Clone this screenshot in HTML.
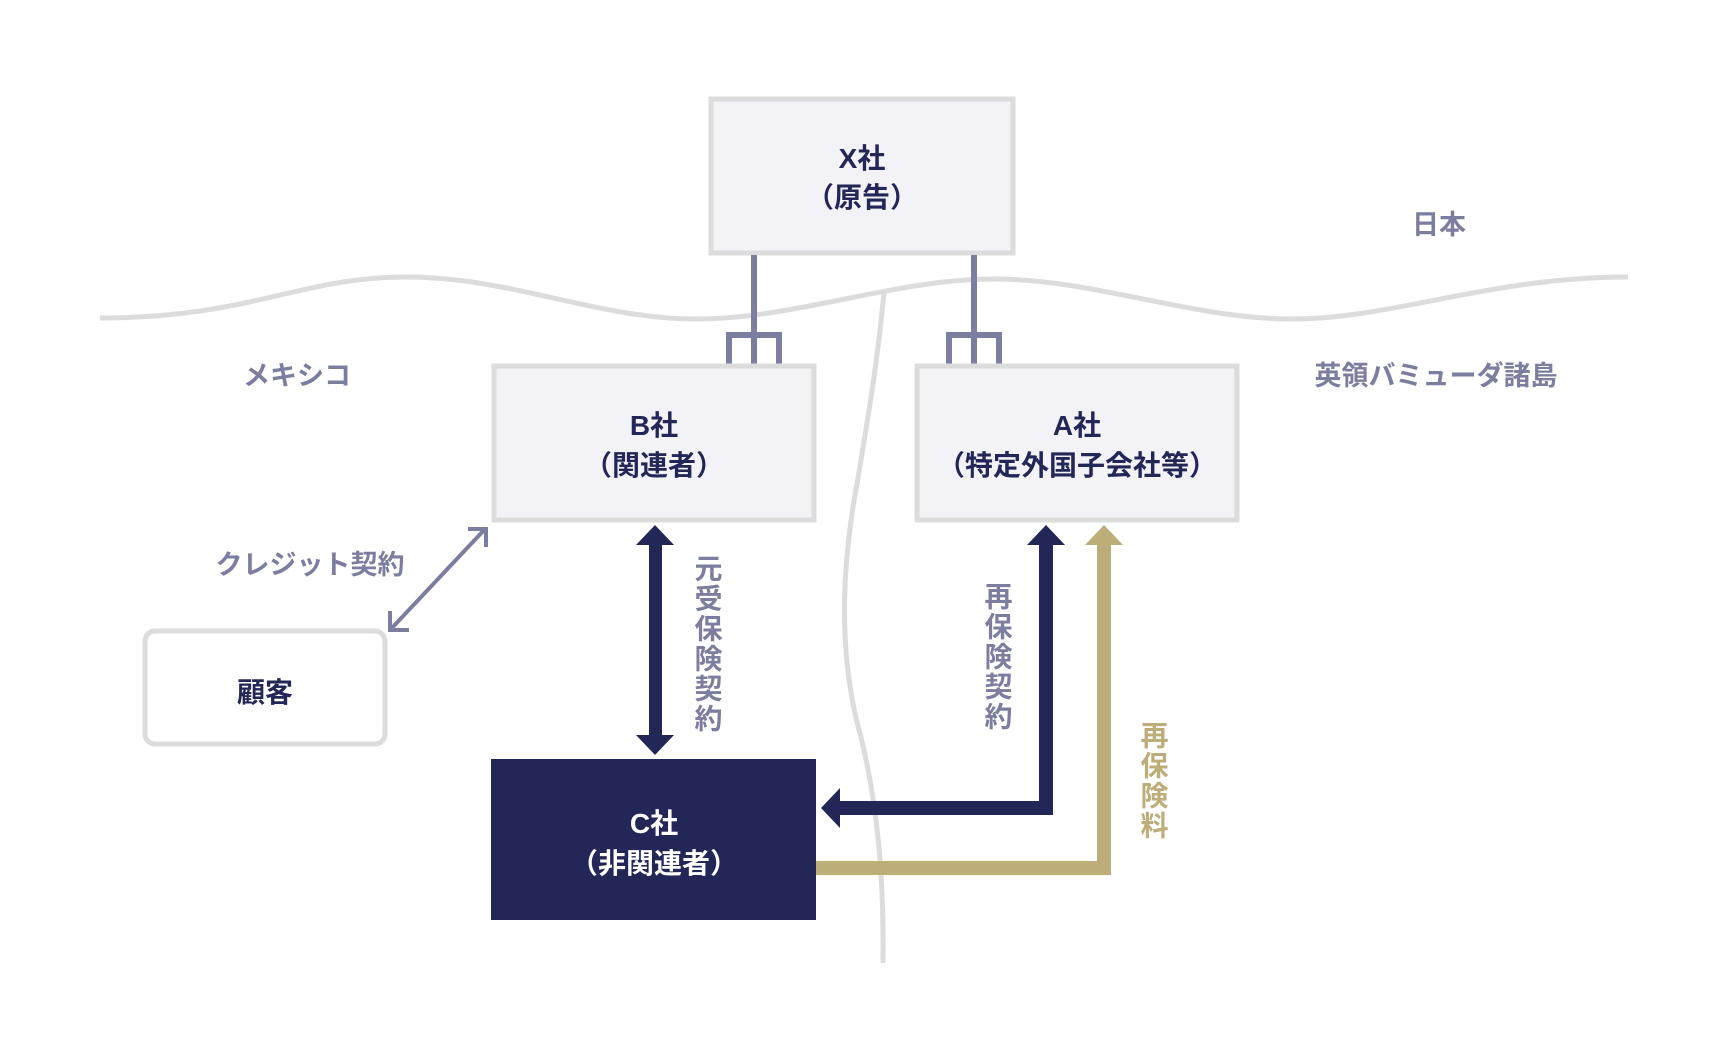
<!DOCTYPE html>
<html><head><meta charset="utf-8"><style>
html,body{margin:0;padding:0;background:#fff;}
svg{display:block;}
text{font-family:"Liberation Sans","Noto Sans CJK JP",sans-serif;}
</style></head><body>
<svg width="1720" height="1060" viewBox="0 0 1720 1060" xmlns="http://www.w3.org/2000/svg">
<rect width="1720" height="1060" fill="#fff"/>
<path d="M100 318 C 250 318, 300 277, 406 277 S 596 319, 696 319 S 894 279, 994 279 S 1192 319, 1292 319 S 1490 277, 1628 277" fill="none" stroke="#dcdcdc" stroke-width="5"/>
<g transform="translate(-2,-2)">
<path d="M886 294 C 880 360, 870 420, 860 480 C 845 560, 840 640, 858 720 C 880 800, 886 880, 885 965" fill="none" stroke="#dcdcdc" stroke-width="5"/>

<rect x="713" y="101" width="302" height="154" fill="#f2f2f7" stroke="#dcdcdc" stroke-width="5"/>
<text x="864" y="170" text-anchor="middle" font-size="28" font-weight="bold" fill="#232757">X社</text>
<text x="864" y="209" text-anchor="middle" font-size="28" font-weight="bold" fill="#232757">（原告）</text>

<g stroke="#7b7e9e" stroke-width="6" fill="none">
<line x1="756" y1="257" x2="756" y2="366"/>
<path d="M731 366 V337 H781 V366"/>
<line x1="976" y1="257" x2="976" y2="366"/>
<path d="M951 366 V337 H1001 V366"/>
</g>

<rect x="496" y="368" width="320" height="154" fill="#f2f2f7" stroke="#dcdcdc" stroke-width="5"/>
<text x="656" y="437" text-anchor="middle" font-size="28" font-weight="bold" fill="#232757">B社</text>
<text x="656" y="477" text-anchor="middle" font-size="28" font-weight="bold" fill="#232757">（関連者）</text>

<rect x="919" y="368" width="320" height="154" fill="#f2f2f7" stroke="#dcdcdc" stroke-width="5"/>
<text x="1079" y="437" text-anchor="middle" font-size="28" font-weight="bold" fill="#232757">A社</text>
<text x="1079" y="477" text-anchor="middle" font-size="28" font-weight="bold" fill="#232757">（特定外国子会社等）</text>

<rect x="147" y="633" width="240" height="113" rx="10" fill="#fff" stroke="#dcdcdc" stroke-width="5"/>
<text x="267" y="704" text-anchor="middle" font-size="28" font-weight="bold" fill="#232757">顧客</text>

<rect x="493" y="761" width="325" height="161" fill="#232757"/>
<text x="656" y="835" text-anchor="middle" font-size="28" font-weight="bold" fill="#fff">C社</text>
<text x="656" y="875" text-anchor="middle" font-size="28" font-weight="bold" fill="#fff">（非関連者）</text>

<text x="1441" y="236" text-anchor="middle" font-size="27" font-weight="bold" fill="#7b7e9e">日本</text>
<text x="299" y="387" text-anchor="middle" font-size="27" font-weight="bold" fill="#7b7e9e">メキシコ</text>
<text x="1438" y="387" text-anchor="middle" font-size="27" font-weight="bold" fill="#7b7e9e">英領バミューダ諸島</text>
<text x="312" y="576" text-anchor="middle" font-size="27" font-weight="bold" fill="#7b7e9e">クレジット契約</text>

<g stroke="#7b7e9e" stroke-width="4" fill="none">
<line x1="488" y1="530" x2="392" y2="632"/>
<path d="M470 531 H488 V549"/>
<path d="M392 613 V632 H411"/>
</g>

<rect x="651" y="545" width="13" height="194" fill="#232757"/>
<polygon points="657,527 676,547 638,547" fill="#232757"/>
<polygon points="657,757 676,737 638,737" fill="#232757"/>
<text font-size="28" font-weight="bold" fill="#7b7e9e" x="709" y="556" letter-spacing="2" style="writing-mode:vertical-rl">元受保険契約</text>

<path d="M840 810 H1048 V545" fill="none" stroke="#232757" stroke-width="14"/>
<polygon points="1048,527 1067,547 1029,547" fill="#232757"/>
<polygon points="823,810 842,790 842,830" fill="#232757"/>
<text font-size="28" font-weight="bold" fill="#7b7e9e" x="999" y="584" letter-spacing="2" style="writing-mode:vertical-rl">再保険契約</text>

<path d="M818 870 H1106 V545" fill="none" stroke="#bdad78" stroke-width="14"/>
<polygon points="1106,527 1125,547 1087,547" fill="#bdad78"/>
<text font-size="28" font-weight="bold" fill="#bdad78" x="1155" y="723" letter-spacing="2" style="writing-mode:vertical-rl">再保険料</text>
</g>
</svg>
</body></html>
